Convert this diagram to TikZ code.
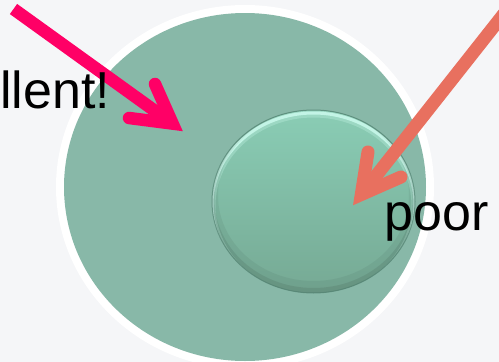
\documentclass[tikz,border=0pt]{standalone}
\usepackage{fontspec}
\setmainfont{Liberation Sans}
\definecolor{bgcol}{HTML}{F5F6F8}
\definecolor{outergreen}{HTML}{88B8A8}
\definecolor{inTop}{HTML}{8ACDB5}
\definecolor{inBot}{HTML}{76A994}
\definecolor{inHi}{HTML}{C8F8EA}
\definecolor{inEdge}{HTML}{4F7F6E}
\definecolor{pinkarr}{HTML}{FF0066}
\definecolor{orangearr}{HTML}{E8705F}
\tikzset{
  pinkline/.style={draw=pinkarr, line width=12.5pt},
  orangeline/.style={draw=orangearr, line width=13pt},
  headline/.style={line cap=round, line join=miter, miter limit=20},
  lbl/.style={inner sep=0pt, font=\fontsize{52}{60}\selectfont, text=black, anchor=base west}
}
\begin{document}
\begin{tikzpicture}[x=1pt, y=-1pt]
\useasboundingbox (0,0) rectangle (499,362);
\clip (0,0) rectangle (499,362);
\fill[bgcol] (0,0) rectangle (499,362);
% outer disc
\coordinate (oc) at (245,187);
\fill[white] (oc) ellipse [x radius=189, y radius=182];
\fill[outergreen] (oc) ellipse [x radius=181, y radius=174];
% inner disc
\coordinate (ic) at (313.5,201.5);
\begin{scope}
  \clip (ic) ellipse [x radius=101.5, y radius=91.5];
  \shade[top color=inTop, bottom color=inBot] (ic) ellipse [x radius=101.5, y radius=91.5];
  \draw[inHi, line width=7pt, opacity=0.3] ([yshift=-4pt]ic) ellipse [x radius=101.5, y radius=91.5];
  \draw[inHi, line width=3pt, opacity=0.9] ([yshift=-3pt]ic) ellipse [x radius=101.5, y radius=91.5];
  \draw[black, line width=12pt, opacity=0.05] ([yshift=6pt]ic) ellipse [x radius=101.5, y radius=91.5];
  \draw[black, line width=5pt, opacity=0.08] ([yshift=2.5pt]ic) ellipse [x radius=101.5, y radius=91.5];
\end{scope}
\draw[inEdge, line width=1pt, opacity=0.7] (ic) ellipse [x radius=101.5, y radius=91.5];
% pink arrow
\coordinate (ps) at (13.5,9);
\coordinate (pc) at (172.6,123.6);
\coordinate (pa1) at (155,84);
\coordinate (pa2) at (129,118);
\draw[pinkline] (ps) -- (pc);
\draw[pinkline, headline] (pa1) -- (pc) -- (pa2);
% orange arrow
\coordinate (os) at (520,-6.6);
\coordinate (oc2) at (361.3,194.5);
\coordinate (oa1) at (368,152);
\coordinate (oa2) at (401,177);
\draw[orangeline] (os) -- (oc2);
\draw[orangeline, headline] (oa1) -- (oc2) -- (oa2);
% labels
\node[lbl] (exc) at (0,108) {llent!};
\node[lbl] (poor) at (384.6,230) {poor};
\end{tikzpicture}
\end{document}
